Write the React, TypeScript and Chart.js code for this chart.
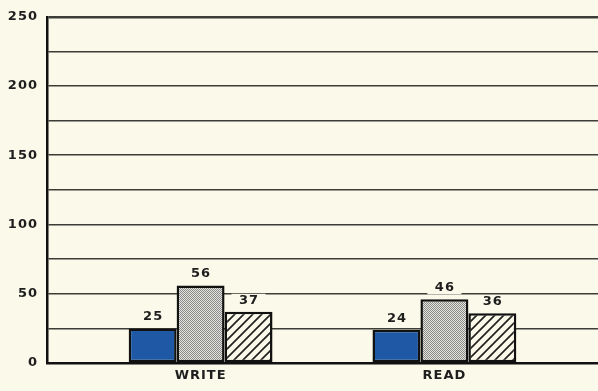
import React, { useEffect, useRef } from 'react';
import { Chart, registerables } from 'chart.js';
Chart.register(...registerables);

const categories = ['WRITE', 'READ'];
const solidValues = [25, 24];
const dottedValues = [56, 46];
const hatchedValues = [37, 36];

const BG = '#fbf9e9';
const INK = '#1e1e1e';

function makeDots(): CanvasPattern | string {
  const c = document.createElement('canvas');
  c.width = 2; c.height = 2;
  const x = c.getContext('2d')!;
  x.fillStyle = '#e4e4de'; x.fillRect(0, 0, 2, 2);
  x.fillStyle = '#8a8a8a'; x.fillRect(0, 0, 1, 1); x.fillRect(1, 1, 1, 1);
  return x.createPattern(c, 'repeat') || '#aaa';
}
function makeHatch(): CanvasPattern | string {
  const c = document.createElement('canvas');
  c.width = 9; c.height = 9;
  const x = c.getContext('2d')!;
  x.fillStyle = BG; x.fillRect(0, 0, 9, 9);
  x.strokeStyle = '#222'; x.lineWidth = 1.7;
  x.beginPath();
  x.moveTo(0, 9); x.lineTo(9, 0);
  x.moveTo(-2, 2); x.lineTo(2, -2);
  x.moveTo(7, 11); x.lineTo(11, 7);
  x.stroke();
  return x.createPattern(c, 'repeat') || '#ccc';
}

const bgPlugin = {
  id: 'bg',
  beforeDraw(chart: any) {
    const { ctx, width, height } = chart;
    ctx.fillStyle = BG;
    ctx.fillRect(0, 0, width, height);
    (ctx as any).letterSpacing = '1px';
  },
  afterDraw(chart: any) {
    (chart.ctx as any).letterSpacing = '0px';
  },
};

const labelPlugin = {
  id: 'valueLabels',
  afterDatasetsDraw(chart: any) {
    const ctx = chart.ctx;
    ctx.save();
    ctx.font = 'bold 13px "DejaVu Sans"';
    (ctx as any).letterSpacing = '1px';
    ctx.textAlign = 'center';
    ctx.textBaseline = 'bottom';
    chart.data.datasets.forEach((ds: any, di: number) => {
      const meta = chart.getDatasetMeta(di);
      meta.data.forEach((el: any, i: number) => {
        const t = String(ds.data[i].y);
        const w = ctx.measureText(t).width;
        const yb = el.y - 5;
        ctx.fillStyle = BG;
        ctx.fillRect(el.x - w / 2 - 7, yb - 13, w + 14, 13);
        ctx.fillStyle = INK;
        ctx.fillText(t, el.x + 0.5, yb);
      });
    });
    ctx.restore();
  },
};

export default function App() {
  const ref = useRef<HTMLCanvasElement>(null);
  useEffect(() => {
    document.body.style.margin = '0';
    document.body.style.background = BG;
    const toPts = (arr: number[]) => arr.map((y, i) => ({ x: i, y }));
    const common = { borderColor: '#111', borderWidth: 2.5, borderSkipped: false, categoryPercentage: 0.59, barPercentage: 1 };
    const chart = new Chart(ref.current!, {
      type: 'bar',
      data: {
        datasets: [
          { ...common, data: toPts(solidValues), backgroundColor: '#1f58a4' },
          { ...common, data: toPts(dottedValues), backgroundColor: makeDots() as any },
          { ...common, data: toPts(hatchedValues), backgroundColor: makeHatch() as any },
        ] as any,
      },
      options: {
        animation: false,
        responsive: false,
        events: [],
        layout: { padding: { top: 13, right: 0, left: 0, bottom: 0 } },
        plugins: { legend: { display: false }, tooltip: { enabled: false } },
        scales: {
          x: {
            type: 'linear',
            min: -0.63,
            max: 1.63,
            offset: false,
            afterBuildTicks: (s: any) => { s.ticks = categories.map((_, i) => ({ value: i })); },
            afterFit: (s: any) => { s.height = 28; },
            ticks: {
              callback: (v: any) => categories[Math.round(Number(v))] ?? '',
              color: INK,
              font: { family: '"DejaVu Sans"', weight: 'bold', size: 13 },
              padding: 5,
              maxRotation: 0,
              autoSkip: false,
            },
            grid: { display: false, drawTicks: false },
            border: { display: true, color: '#111', width: 2.5 },
          },
          y: {
            min: 0,
            max: 250,
            afterFit: (s: any) => { s.width = 47; },
            ticks: {
              stepSize: 25,
              callback: (v: any) => (Number(v) % 50 === 0 ? String(v) : ''),
              color: INK,
              font: { family: '"DejaVu Sans"', weight: 'bold', size: 13 },
              padding: 9,
            },
            grid: {
              drawTicks: false,
              color: '#3d3d38',
              lineWidth: (c: any) => (c.tick && c.tick.value === 250 ? 2.5 : 1.6),
            },
            border: { display: true, color: '#111', width: 2.5 },
          },
        },
      } as any,
      plugins: [bgPlugin, labelPlugin],
    });
    return () => chart.destroy();
  }, []);
  return <canvas ref={ref} width={598} height={391} style={{ display: 'block' }} />;
}
